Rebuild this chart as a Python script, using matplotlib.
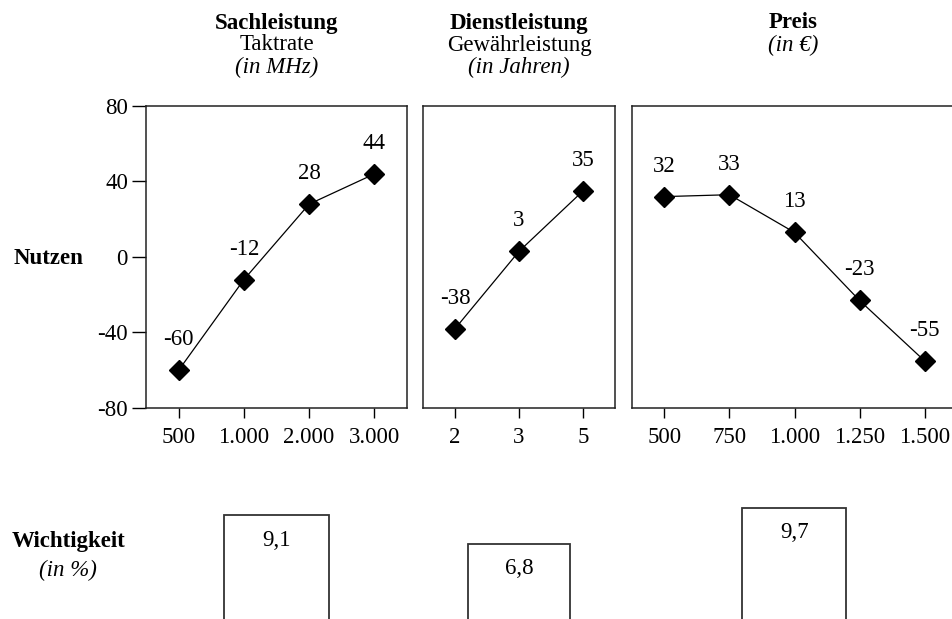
import matplotlib
matplotlib.use("Agg")
import matplotlib.pyplot as plt

plt.rcParams['font.family'] = ['Liberation Serif', 'DejaVu Serif']

# Teilnutzenwerte je Merkmal
sach_labels = ["500", "1.000", "2.000", "3.000"]
sach_nutzen = [-60, -12, 28, 44]
dienst_labels = ["2", "3", "5"]
dienst_nutzen = [-38, 3, 35]
preis_labels = ["500", "750", "1.000", "1.250", "1.500"]
preis_nutzen = [32, 33, 13, -23, -55]

# Wichtigkeit je Merkmal (in %)
wichtigkeit = [9.1, 6.8, 9.7]
wichtigkeit_text = ["9,1", "6,8", "9,7"]

# Kopfzeilen: (Text, Stil)
headers = [
    [("Sachleistung", "bold"), ("Taktrate", "normal"), ("(in MHz)", "italic")],
    [("Dienstleistung", "bold"), ("Gewährleistung", "normal"), ("(in Jahren)", "italic")],
    [("Preis", "bold"), ("(in €)", "italic")],
]

W, H = 953, 619
FS = 16.5
fig = plt.figure(figsize=(W / 100, H / 100), dpi=100)

def px_axes(x0, x1, y0, y1):
    # Achse aus Pixelkanten (y von oben gemessen)
    return fig.add_axes([x0 / W, 1 - y1 / H, (x1 - x0) / W, (y1 - y0) / H])

panels = [
    ((146, 407), sach_labels, sach_nutzen),
    ((423, 615), dienst_labels, dienst_nutzen),
    ((632, 957), preis_labels, preis_nutzen),
]

for i, ((x0, x1), labels, vals) in enumerate(panels):
    ax = px_axes(x0, x1, 106, 408)
    xs = list(range(len(vals)))
    ax.plot(xs, vals, color='black', lw=0.9, marker='D', ms=10.5,
            mfc='black', mec='black', clip_on=False)
    for x, v in zip(xs, vals):
        ax.annotate(str(v), (x, v), xytext=(0, 22), textcoords='offset points',
                    ha='center', va='center', fontsize=FS)
    ax.set_xlim(-0.5, len(vals) - 0.5)
    ax.set_ylim(-80, 80)
    ax.set_xticks(xs)
    ax.set_xticklabels(labels, fontsize=FS)
    ax.tick_params(axis='x', direction='out', length=7.5, width=1.0, pad=6)
    for s in ax.spines.values():
        s.set_linewidth(1.1)
        s.set_color('#222222')
    if i == 0:
        ax.set_yticks([-80, -40, 0, 40, 80])
        ax.set_yticklabels(["-80", "-40", "0", "40", "80"], fontsize=FS)
        ax.tick_params(axis='y', direction='out', length=10, width=1.0, pad=3)
    else:
        ax.set_yticks([])

    # Kopfzeilen
    cx = (x0 + x1) / 2 / W
    if i == 2:
        cx = 793 / W
    for j, (txt, style) in enumerate(headers[i]):
        weight = 'bold' if style == 'bold' else 'normal'
        fstyle = 'italic' if style == 'italic' else 'normal'
        fig.text(cx, 1 - (23 + 22 * j) / H, txt, ha='center', va='center',
                 fontsize=FS, fontweight=weight, fontstyle=fstyle)

    # Wichtigkeit-Balken
    bx = px_axes(x0, x1, 480, 619)
    bx.bar([(len(vals) - 1) / 2], [wichtigkeit[i]], width=1.6,
           facecolor='white', edgecolor='#333333', linewidth=1.3)
    bx.annotate(wichtigkeit_text[i], ((len(vals) - 1) / 2, wichtigkeit[i]),
                xytext=(0, -18), textcoords='offset points',
                ha='center', va='center', fontsize=FS)
    bx.set_xlim(-0.5, len(vals) - 0.5)
    bx.set_ylim(0.73, 11.94)
    bx.axis('off')

fig.text(48 / W, 1 - 259 / H, "Nutzen", ha='center', va='center',
         fontsize=FS, fontweight='bold')
fig.text(69 / W, 1 - 541 / H, "Wichtigkeit", ha='center', va='center',
         fontsize=FS, fontweight='bold')
fig.text(68 / W, 1 - 570 / H, "(in %)", ha='center', va='center',
         fontsize=FS, fontstyle='italic')

fig.savefig("out.png", dpi=100)
